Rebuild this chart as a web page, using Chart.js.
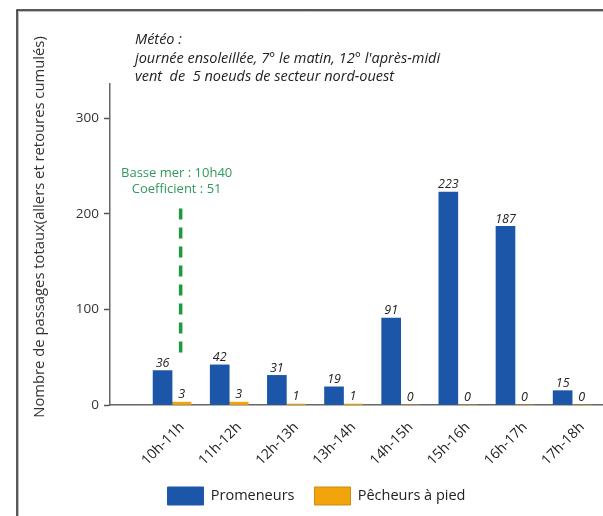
<!DOCTYPE html>
<html>
<head>
<meta charset="utf-8">
<script src="https://cdn.jsdelivr.net/npm/chart.js@4/dist/chart.umd.min.js"></script>
<style>
  html, body { margin: 0; padding: 0; background: #fff; }
  #wrap { width: 603px; height: 516px; position: relative; }
</style>
</head>
<body>
<div id="wrap"><canvas id="c" width="603" height="516"></canvas></div>
<script>
// ---- data ----
const categories = ['10h-11h', '11h-12h', '12h-13h', '13h-14h', '14h-15h', '15h-16h', '16h-17h', '17h-18h'];
const promeneurs = [36, 42, 31, 19, 91, 223, 187, 15];
const pecheurs = [3, 3, 1, 1, 0, 0, 0, 0];
const seriesNames = ['Promeneurs', 'Pêcheurs à pied'];
const yTicks = [0, 100, 200, 300];
const lowTidePos = 0.15;          // position of 10h40 on the hour axis
const lowTideRange = [55, 207];   // vertical extent of dashed marker
const meteoLines = ['Météo :', "journée ensoleillée, 7° le matin, 12° l'après-midi", 'vent  de  5 noeuds de secteur nord-ouest'];
const tideLines = ['Basse mer : 10h40', 'Coefficient : 51'];
const yTitle = 'Nombre de passages totaux(allers et retoures cumulés)';

const BLUE = '#1c56a8';
const ORANGE = '#f2a40c';
const GREEN = '#1e9a3c';

const decor = {
  id: 'decor',
  beforeDraw(chart) {
    const ctx = chart.ctx;
    ctx.save();
    ctx.fillStyle = '#fff';
    ctx.fillRect(0, 0, chart.width, chart.height);
    // frame
    ctx.strokeStyle = '#bbb';
    ctx.lineWidth = 1;
    ctx.beginPath();
    ctx.moveTo(18.5, chart.height); ctx.lineTo(18.5, 11.5); ctx.lineTo(chart.width, 11.5);
    ctx.stroke();
    ctx.strokeStyle = '#222';
    ctx.lineWidth = 1.5;
    ctx.beginPath();
    ctx.moveTo(17, chart.height); ctx.lineTo(17, 10); ctx.lineTo(chart.width, 10);
    ctx.stroke();
    // y title
    ctx.fillStyle = '#333';
    ctx.font = '14.8px "Open Sans"';
    ctx.translate(40, 227);
    ctx.rotate(-Math.PI / 2);
    ctx.textAlign = 'center';
    ctx.textBaseline = 'middle';
    ctx.fillText(yTitle, 0, 0);
    ctx.restore();
  },
  afterDatasetsDraw(chart) {
    const ctx = chart.ctx;
    const xs = chart.scales.x, ys = chart.scales.y;
    ctx.save();
    // value labels
    ctx.font = 'italic 12.5px "Open Sans"';
    ctx.fillStyle = '#222';
    ctx.textAlign = 'center';
    ctx.textBaseline = 'bottom';
    [0, 1].forEach(di => {
      const meta = chart.getDatasetMeta(di);
      const vals = di === 0 ? promeneurs : pecheurs;
      meta.data.forEach((bar, i) => {
        ctx.fillText(String(vals[i]), bar.x, bar.y - 1);
      });
    });
    // tide label
    ctx.font = '13px "Open Sans"';
    ctx.fillStyle = '#2e9a5c';
    ctx.textBaseline = 'middle';
    const tx = xs.getPixelForValue(lowTidePos) - 4;
    ctx.fillText(tideLines[0], tx, ys.getPixelForValue(243));
    ctx.fillText(tideLines[1], tx, ys.getPixelForValue(226));
    // meteo text
    ctx.font = 'italic 14.5px "Open Sans"';
    ctx.fillStyle = '#222';
    ctx.textAlign = 'left';
    meteoLines.forEach((t, k) => ctx.fillText(t, 135, 40 + k * 18.5));
    ctx.restore();
  }
};

const ctx = document.getElementById('c').getContext('2d');
new Chart(ctx, {
  type: 'bar',
  data: {
    datasets: [
      {
        label: seriesNames[0],
        data: promeneurs.map((v, i) => ({ x: i, y: v })),
        backgroundColor: BLUE,
        borderWidth: 0,
        barThickness: 19
      },
      {
        label: seriesNames[1],
        data: pecheurs.map((v, i) => ({ x: i, y: v })),
        backgroundColor: ORANGE,
        borderWidth: 0,
        barThickness: 19
      },
      {
        type: 'line',
        label: 'Basse mer',
        data: lowTideRange.map(v => ({ x: lowTidePos, y: v })),
        borderColor: GREEN,
        borderWidth: 3.5,
        borderDash: [11, 8],
        pointRadius: 0,
        fill: false
      }
    ]
  },
  options: {
    responsive: false,
    animation: false,
    devicePixelRatio: 1,
    layout: { padding: { top: 84, left: 30, right: 0, bottom: 1 } },
    plugins: {
      legend: {
        position: 'bottom',
        labels: {
          filter: item => item.datasetIndex < 2,
          boxWidth: 36,
          boxHeight: 18,
          padding: 20,
          color: '#222',
          font: { family: 'Open Sans', size: 14.5 },
          generateLabels: chart => seriesNames.map((n, i) => ({
            text: n,
            fillStyle: i === 0 ? BLUE : ORANGE,
            strokeStyle: i === 0 ? BLUE : '#c98b12',
            lineWidth: 1,
            hidden: false,
            datasetIndex: i,
            fontColor: '#222'
          }))
        }
      },
      tooltip: { enabled: false },
      title: { display: false }
    },
    scales: {
      x: {
        type: 'linear',
        offset: false,
        min: -1.086,
        max: 7.54,
        afterBuildTicks: s => { s.ticks = categories.map((c, i) => ({ value: i })); },
        afterFit: s => { s.height = 62; },
        grid: { display: false },
        border: { display: true, color: '#666', width: 1.5 },
        ticks: {
          autoSkip: false,
          minRotation: 45,
          maxRotation: 45,
          padding: 6,
          labelOffset: 10,
          color: '#222',
          font: { family: 'Open Sans', size: 14 },
          callback: v => categories[v] !== undefined ? categories[v] : ''
        }
      },
      y: {
        min: 0,
        max: 336,
        afterBuildTicks: s => { s.ticks = yTicks.map(v => ({ value: v })); },
        afterFit: s => { s.width = 80; },
        grid: { drawOnChartArea: false, drawTicks: true, tickLength: 6, color: '#555', tickWidth: 1.5 },
        border: { display: true, color: '#666', width: 1.5 },
        ticks: {
          padding: 5,
          color: '#333',
          font: { family: 'Open Sans', size: 13.5 }
        }
      }
    }
  },
  plugins: [decor]
});
</script>
</body>
</html>
